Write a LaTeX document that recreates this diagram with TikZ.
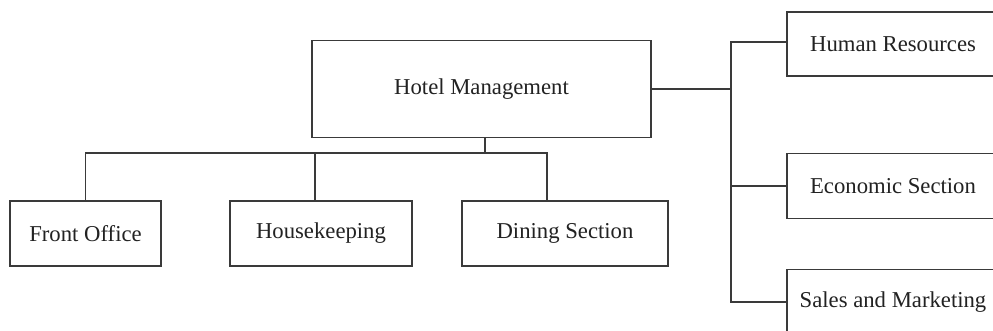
\documentclass[tikz,border=0pt]{standalone}
\usepackage{fontspec}
\setmainfont{Liberation Serif}
\definecolor{ink}{HTML}{3A3A3A}
\definecolor{txt}{HTML}{222222}
\begin{document}
\begin{tikzpicture}[x=1pt,y=-1pt,
  box/.style={draw=ink, line width=1.5pt, rectangle, inner sep=0pt, anchor=center,
    text=txt, font=\fontsize{22.7}{27}\selectfont},
  link/.style={draw=ink, line width=1.5pt}]
\clip (0,0) rectangle (993,331);
\fill[white] (0,0) rectangle (993,331);
\node[box, minimum width=339pt, minimum height=97pt] (hm) at (481.5,89) {Hotel Management};
\node[box, minimum width=151pt, minimum height=65pt] (fo) at (85.5,233.5) {Front Office};
\node[box, minimum width=182pt, minimum height=65pt] (hk) at (321,233.5) {Housekeeping};
\node[box, minimum width=206pt, minimum height=65pt] (ds) at (565,233.5) {Dining Section};
\node[box, minimum width=212pt, minimum height=64pt] (hr) at (893,44) {Human Resources};
\node[box, minimum width=212pt, minimum height=65pt] (ec) at (893,186) {Economic Section};
\node[box, minimum width=212pt, minimum height=65pt] (ss) at (893,302) {Sales and Marketing};
\coordinate (rj) at (731,89);
\coordinate (bj) at (485,153);
% right side
\draw[link] (hm.east) -- (rj);
\draw[link] (hr.west |- 0,42) -- (rj |- 0,42) -- (rj |- ss.west) -- (ss.west);
\draw[link] (ec.west) -- (ec.west -| rj);
% lower side
\draw[link] ([xshift=3.5pt]hm.south) -- (bj);
\draw[link] (fo.north) -- (fo.north |- bj) -- ([xshift=-18pt]ds.north |- bj) -- ([xshift=-18pt]ds.north);
\draw[link] ([xshift=-6pt]hk.north) -- ([xshift=-6pt]hk.north |- bj);
\end{tikzpicture}
\end{document}
